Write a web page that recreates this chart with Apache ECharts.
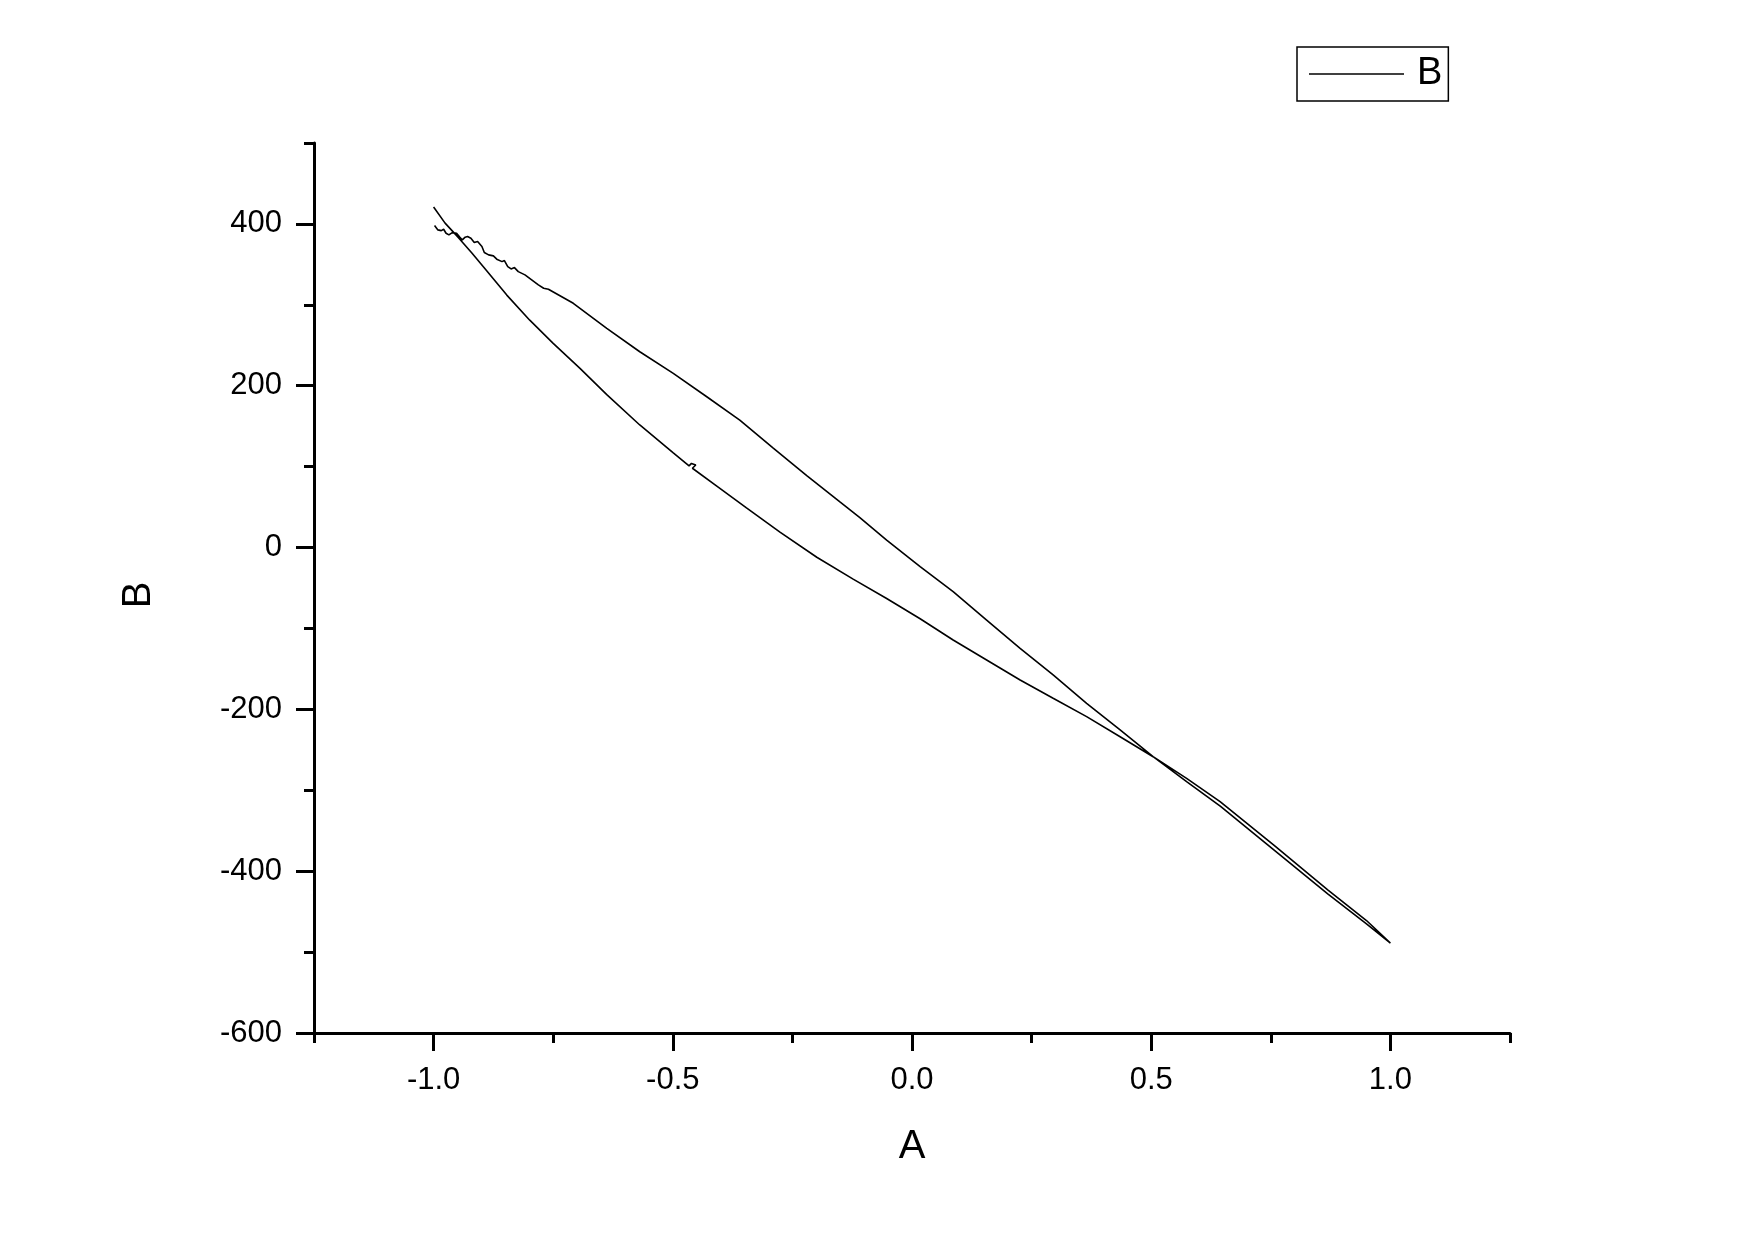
<!DOCTYPE html>
<html>
<head>
<meta charset="utf-8">
<script src="https://cdn.jsdelivr.net/npm/echarts@6/dist/echarts.min.js"></script>
<style>
html,body{margin:0;padding:0;background:#fff;}
#chart{width:1755px;height:1240px;}
</style>
</head>
<body>
<div id="chart"></div>
<script>
// Upper (wiggly) branch, from x=-1 to x=1
const upperX = [-0.998,-0.991,-0.984,-0.979,-0.974,-0.968,-0.961,-0.952,-0.945,-0.940,-0.934,-0.929,-0.922,-0.915,-0.908,-0.899,-0.894,-0.885,-0.875,-0.868,-0.857,-0.852,-0.845,-0.838,-0.831,-0.823,-0.809,-0.795,-0.781,-0.770,-0.760,-0.708,-0.638,-0.569,-0.499,-0.429,-0.360,-0.290,-0.220,-0.150,-0.109,-0.053,0.017,0.086,0.156,0.226,0.295,0.365,0.435,0.504,0.574,0.645,0.757,0.869,0.950,1.000];
const upperY = [398,392.6,391.7,393.4,388.5,386.4,389.2,388.5,383.6,380.2,383.6,384.4,382.3,377,378.2,372,364.6,361.7,360.5,356.4,353.4,354.7,347.3,344.4,346,341,337,330.8,324.6,320.5,319.3,301.9,271,242,215.3,186.4,157.6,123,89,56,37,9.3,-23.7,-54.5,-89.6,-124.5,-157.5,-192.5,-225.5,-258.5,-289.4,-320,-374,-428,-465,-489];
// Lower (smooth) branch, from x=-1 to x=1
const lowerX = [-1.000,-0.976,-0.948,-0.920,-0.896,-0.847,-0.799,-0.750,-0.694,-0.638,-0.569,-0.499,-0.466,-0.461,-0.452,-0.459,-0.408,-0.346,-0.276,-0.199,-0.123,-0.053,0.017,0.086,0.156,0.226,0.295,0.365,0.435,0.504,0.574,0.644,0.757,0.869,0.950,1.000];
const lowerY = [421,401,383,364,347,312,281,252.4,221.5,189,151.5,117,101,104,102,98,76,49,19,-12,-39,-63,-88,-114.3,-139,-163.7,-186.3,-209,-233.8,-258.5,-285.3,-314,-368,-423,-461,-489];
const xTickLabels = ['-1.0','-0.5','0.0','0.5','1.0'];
const yTickLabels = ['-600','-400','-200','0','200','400'];
const seriesName = 'B';

const loop = [];
for (let i = 0; i < upperX.length; i++) loop.push([upperX[i], upperY[i]]);
for (let i = lowerX.length - 1; i >= 0; i--) loop.push([lowerX[i], lowerY[i]]);

const FONT = "'Liberation Sans', Arial, sans-serif";
const black = '#000';
const chart = echarts.init(document.getElementById('chart'), null, {renderer: 'canvas'});
chart.setOption({
  backgroundColor: '#fff',
  animation: false,
  grid: [
    {left: 314, right: 245, top: 143, bottom: 207},
    {left: 433.6, right: 364.6, top: 223.9, bottom: 207}
  ],
  legend: {
    data: [{name: seriesName, icon: 'rect'}],
    left: 1297, top: 47,
    borderColor: black, borderWidth: 1.5,
    padding: [8, 6, 8, 12],
    itemWidth: 95, itemHeight: 1.6,
    itemStyle: {color: black},
    textStyle: {fontSize: 38, color: black, fontFamily: FONT, padding: [0, 0, 0, 8]}
  },
  xAxis: [
    {gridIndex: 0, type: 'value', min: -1.25, max: 1.25, interval: 0.25,
     axisLine: {onZero: false, lineStyle: {color: black, width: 3}},
     axisTick: {length: 10, lineStyle: {color: black, width: 3}},
     axisLabel: {show: false}, splitLine: {show: false},
     name: 'A', nameLocation: 'middle', nameGap: 94,
     nameTextStyle: {fontSize: 40, color: black, fontFamily: FONT}},
    {gridIndex: 1, type: 'value', min: -1, max: 1, interval: 0.5,
     axisLine: {show: false, onZero: false},
     axisTick: {length: 18, lineStyle: {color: black, width: 3}},
     axisLabel: {fontSize: 31, color: black, fontFamily: FONT, margin: 32,
       formatter: function (v) { const i = Math.round((v + 1) / 0.5); return xTickLabels[i] || ''; }},
     splitLine: {show: false}}
  ],
  yAxis: [
    {gridIndex: 0, type: 'value', min: -600, max: 500, interval: 100,
     axisLine: {onZero: false, lineStyle: {color: black, width: 3}},
     axisTick: {length: 10, lineStyle: {color: black, width: 3}},
     axisLabel: {show: false}, splitLine: {show: false},
     name: 'B', nameLocation: 'middle', nameGap: 155,
     nameTextStyle: {fontSize: 40, color: black, fontFamily: FONT, padding: [0, 14, 0, 0]}},
    {gridIndex: 1, type: 'value', min: -600, max: 400, interval: 200, offset: 119.6,
     axisLine: {show: false, onZero: false},
     axisTick: {length: 18, lineStyle: {color: black, width: 3}},
     axisLabel: {fontSize: 31, color: black, fontFamily: FONT, margin: 32,
       formatter: function (v) { const i = Math.round((v + 600) / 200); return yTickLabels[i] || ''; }},
     splitLine: {show: false}}
  ],
  series: [{
    name: seriesName, type: 'line', xAxisIndex: 0, yAxisIndex: 0,
    data: loop, symbol: 'none', smooth: false,
    lineStyle: {color: black, width: 1.6},
    itemStyle: {color: black}
  }]
});
</script>
</body>
</html>
